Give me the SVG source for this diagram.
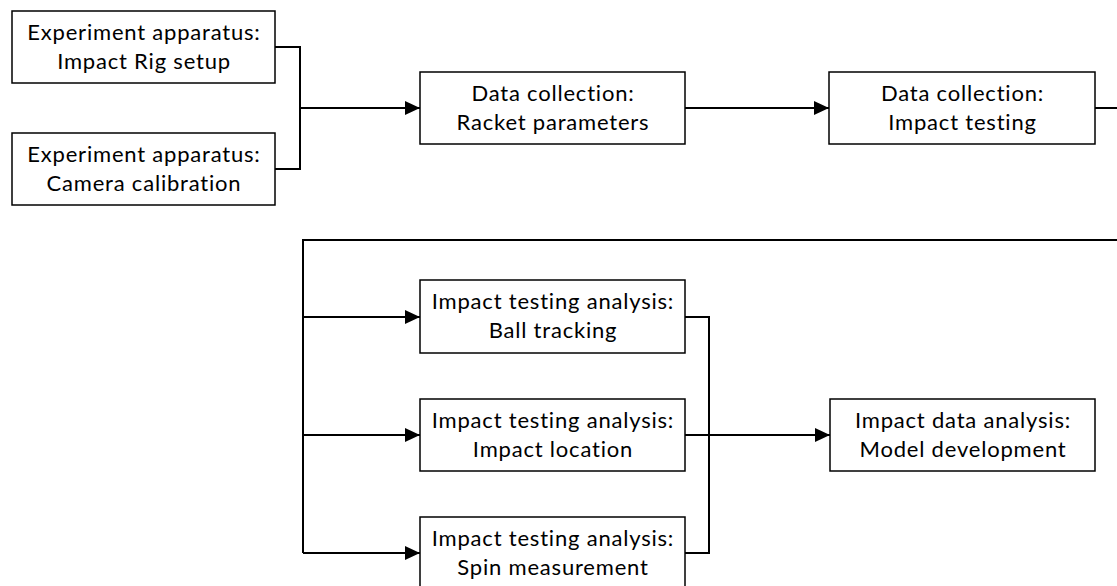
<svg xmlns="http://www.w3.org/2000/svg" width="1117" height="586" viewBox="0 0 1117 586">
<style>
.box{fill:#fff;stroke:#000;stroke-width:1.5}
.t{font-family:Lato,"Open Sans",sans-serif;font-size:22px;letter-spacing:0.8px;fill:#000;text-anchor:middle}
.c{fill:none;stroke:#000;stroke-width:2}
</style>
<defs>
<marker id="arr" markerUnits="userSpaceOnUse" markerWidth="15" markerHeight="14" refX="15" refY="7" orient="auto">
<path d="M0,0 L15,7 L0,14 Z" fill="#000"/>
</marker>
</defs>
<rect width="1117" height="586" fill="#fff"/>
<g id="connectors">
<path class="c" d="M275,47 H300 V169 H275"/>
<path class="c" d="M300,108 H420" marker-end="url(#arr)"/>
<path class="c" d="M685,108 H829" marker-end="url(#arr)"/>
<path class="c" d="M1095,108 H1117"/>
<path class="c" d="M1117,240 H303 V553"/>
<path class="c" d="M303,317 H420" marker-end="url(#arr)"/>
<path class="c" d="M303,435 H420" marker-end="url(#arr)"/>
<path class="c" d="M303,553 H420" marker-end="url(#arr)"/>
<path class="c" d="M685,317 H709 V553 H685"/>
<path class="c" d="M685,435 H830" marker-end="url(#arr)"/>
</g>
<g id="n1"><rect class="box" x="12" y="11" width="263" height="72"/><text class="t" x="144" y="39.5">Experiment apparatus:</text><text class="t" x="144" y="68.5">Impact Rig setup</text></g>
<g id="n2"><rect class="box" x="12" y="133" width="263" height="72"/><text class="t" x="144" y="161.5">Experiment apparatus:</text><text class="t" x="144" y="190.5">Camera calibration</text></g>
<g id="n3"><rect class="box" x="420" y="72" width="265" height="72"/><text class="t" x="553" y="100.5">Data collection:</text><text class="t" x="553" y="129.5">Racket parameters</text></g>
<g id="n4"><rect class="box" x="829" y="72" width="266" height="72"/><text class="t" x="962.5" y="100.5">Data collection:</text><text class="t" x="962.5" y="129.5">Impact testing</text></g>
<g id="n5"><rect class="box" x="420" y="280" width="265" height="73"/><text class="t" x="553" y="308.5">Impact testing analysis:</text><text class="t" x="553" y="337.5">Ball tracking</text></g>
<g id="n6"><rect class="box" x="420" y="399" width="265" height="72"/><text class="t" x="553" y="427.5">Impact testing analysis:</text><text class="t" x="553" y="456.5">Impact location</text></g>
<g id="n7"><rect class="box" x="420" y="517" width="265" height="72"/><text class="t" x="553" y="545.5">Impact testing analysis:</text><text class="t" x="553" y="574.5">Spin measurement</text></g>
<g id="n8"><rect class="box" x="830" y="399" width="265" height="72"/><text class="t" x="963" y="427.5">Impact data analysis:</text><text class="t" x="963" y="456.5">Model development</text></g>
</svg>
